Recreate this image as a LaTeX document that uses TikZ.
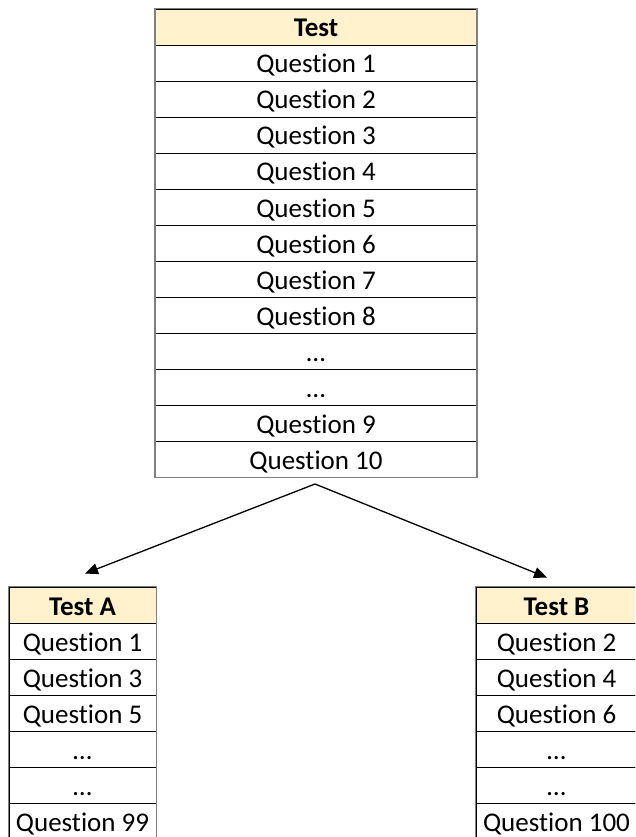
\documentclass[tikz,border=0pt]{standalone}
\usepackage{fontspec}
\setmainfont{Carlito}[Ligatures=NoCommon]
\usetikzlibrary{arrows.meta,calc}
\definecolor{hdr}{HTML}{FFF2CC}
\definecolor{frame}{HTML}{7F7F7F}
\tikzset{
  cell/.style={draw=black, line width=0.9pt, rectangle, inner sep=0pt, minimum height=36pt, text height=20pt, text depth=0pt, font=\fontsize{27}{30}\selectfont},
  hcell/.style={cell, fill=hdr, font=\fontsize{27}{30}\selectfont\bfseries},
  outer/.style={draw=frame, line width=1.4pt},
  conn/.style={line width=1.3pt, -{Triangle[length=13pt,width=11pt]}}
}
\begin{document}
\begin{tikzpicture}[x=1pt,y=-1pt]
\useasboundingbox (0,0) rectangle (635,837);
\clip (0,0) rectangle (635,837);
\fill[white] (0,0) rectangle (635,837);
% main table
\node[hcell, minimum width=321pt] (T0) at (316,27) {Test};
\node[cell, minimum width=321pt] (T1) at (316,63) {Question 1};
\node[cell, minimum width=321pt] (T2) at (316,99) {Question 2};
\node[cell, minimum width=321pt] (T3) at (316,135) {Question 3};
\node[cell, minimum width=321pt] (T4) at (316,171) {Question 4};
\node[cell, minimum width=321pt] (T5) at (316,207) {Question 5};
\node[cell, minimum width=321pt] (T6) at (316,243) {Question 6};
\node[cell, minimum width=321pt] (T7) at (316,279) {Question 7};
\node[cell, minimum width=321pt] (T8) at (316,315) {Question 8};
\node[cell, minimum width=321pt] (T9) at (316,351) {…};
\node[cell, minimum width=321pt] (T10) at (316,387) {…};
\node[cell, minimum width=321pt] (T11) at (316,423) {Question 9};
\node[cell, minimum width=321pt] (T12) at (316,459) {Question 10};
\draw[outer] (T0.north west) rectangle (T12.south east);
% left table
\node[hcell, minimum width=147pt] (A0) at (82.5,605) {Test A};
\node[cell, minimum width=147pt] (A1) at (82.5,641) {Question 1};
\node[cell, minimum width=147pt] (A2) at (82.5,677) {Question 3};
\node[cell, minimum width=147pt] (A3) at (82.5,713) {Question 5};
\node[cell, minimum width=147pt] (A4) at (82.5,749) {…};
\node[cell, minimum width=147pt] (A5) at (82.5,785) {…};
\node[cell, minimum width=147pt] (A6) at (82.5,821) {Question 99};
\draw[outer] (A0.north west) rectangle (A6.south east);
% right table
\node[hcell, minimum width=161pt] (B0) at (556.5,605) {Test B};
\node[cell, minimum width=161pt] (B1) at (556.5,641) {Question 2};
\node[cell, minimum width=161pt] (B2) at (556.5,677) {Question 4};
\node[cell, minimum width=161pt] (B3) at (556.5,713) {Question 6};
\node[cell, minimum width=161pt] (B4) at (556.5,749) {…};
\node[cell, minimum width=161pt] (B5) at (556.5,785) {…};
\node[cell, minimum width=161pt] (B6) at (556.5,821) {Question 100};
\draw[outer] (B0.north west) rectangle (B6.south east);
% connectors
\coordinate (split) at (315,484);
\coordinate (tipA) at ($(A0.north)+(2.5,-13)$);
\coordinate (tipB) at ($(B0.north)+(-9.5,-9)$);
\draw[conn] (split) -- (tipA);
\draw[conn] (split) -- (tipB);
\end{tikzpicture}
\end{document}
